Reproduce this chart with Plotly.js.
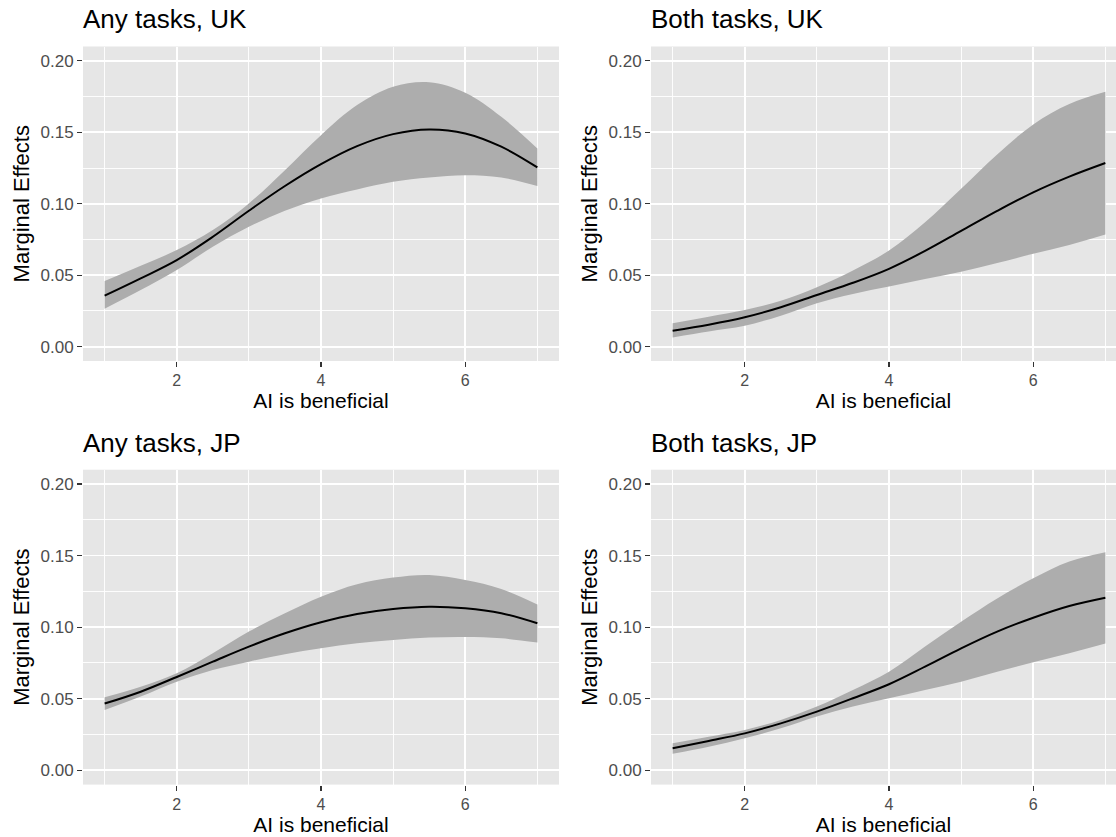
<!DOCTYPE html>
<html>
<head>
<meta charset="utf-8">
<script src="https://cdn.plot.ly/plotly-3.0.1.min.js"></script>
<style>html,body{margin:0;padding:0;background:#fff;}#chart{width:1116px;height:837px;}</style>
</head>
<body>
<div id="chart"></div>
<script>
// x values: "AI is beneficial"
const aiBeneficial = [1, 1.5, 2, 2.5, 3, 3.5, 4, 4.5, 5, 5.5, 6, 6.5, 7];

// Any tasks, UK
const anyUK_fit = [0.0357, 0.0478, 0.0606, 0.0769, 0.0951, 0.1124, 0.1277, 0.1403, 0.1487, 0.1520, 0.1492, 0.1399, 0.1254];
const anyUK_hi  = [0.0459, 0.0566, 0.0676, 0.0816, 0.1002, 0.1235, 0.1480, 0.1690, 0.1818, 0.1850, 0.1776, 0.1608, 0.1387];
const anyUK_lo  = [0.0266, 0.0396, 0.0536, 0.0699, 0.0839, 0.0951, 0.1037, 0.1100, 0.1154, 0.1184, 0.1200, 0.1184, 0.1124];

// Both tasks, UK
const bothUK_fit = [0.0112, 0.0154, 0.0206, 0.0276, 0.0362, 0.0447, 0.0545, 0.0670, 0.0810, 0.0950, 0.1080, 0.1190, 0.1285];
const bothUK_hi  = [0.0164, 0.0210, 0.0257, 0.0322, 0.0416, 0.0533, 0.0673, 0.0871, 0.1105, 0.1345, 0.1555, 0.1698, 0.1783];
const bothUK_lo  = [0.0065, 0.0107, 0.0147, 0.0217, 0.0304, 0.0369, 0.0421, 0.0473, 0.0525, 0.0585, 0.0650, 0.0712, 0.0785];

// Any tasks, JP
const anyJP_fit = [0.0466, 0.0549, 0.0652, 0.0759, 0.0864, 0.0957, 0.1034, 0.1092, 0.1127, 0.1143, 0.1132, 0.1097, 0.1027];
const anyJP_hi  = [0.0510, 0.0584, 0.0678, 0.0817, 0.0969, 0.1097, 0.1213, 0.1300, 0.1346, 0.1364, 0.1329, 0.1267, 0.1159];
const anyJP_lo  = [0.0421, 0.0515, 0.0619, 0.0701, 0.0759, 0.0810, 0.0852, 0.0887, 0.0910, 0.0927, 0.0931, 0.0922, 0.0892];

// Both tasks, JP
const bothJP_fit = [0.0154, 0.0205, 0.0258, 0.0328, 0.0410, 0.0503, 0.0601, 0.0724, 0.0852, 0.0969, 0.1066, 0.1148, 0.1206];
const bothJP_hi  = [0.0189, 0.0235, 0.0282, 0.0352, 0.0445, 0.0561, 0.0689, 0.0864, 0.1038, 0.1201, 0.1341, 0.1458, 0.1523];
const bothJP_lo  = [0.0116, 0.0165, 0.0224, 0.0293, 0.0375, 0.0445, 0.0503, 0.0561, 0.0619, 0.0689, 0.0754, 0.0817, 0.0885];

const panelTitles = ["Any tasks, UK", "Both tasks, UK", "Any tasks, JP", "Both tasks, JP"];
const xTitle = "AI is beneficial";
const yTitle = "Marginal Effects";
const xTickVals = [2, 4, 6];
const yTickVals = [0, 0.05, 0.10, 0.15, 0.20];

const panels = [
  {fit: anyUK_fit, lo: anyUK_lo, hi: anyUK_hi},
  {fit: bothUK_fit, lo: bothUK_lo, hi: bothUK_hi},
  {fit: anyJP_fit, lo: anyJP_lo, hi: anyJP_hi},
  {fit: bothJP_fit, lo: bothJP_lo, hi: bothJP_hi}
];

const W = 1116, H = 837;
const FONT = "Liberation Sans, Arial, Helvetica, sans-serif";
// pixel geometry of panels
const xDom = [[83 / W, 559 / W], [651 / W, 1]];
const yDom = [[1 - 361 / H, 1 - 46.5 / H], [1 - 784.6 / H, 1 - 469.7 / H]];
const xRanges = [[0.7, 7.3], [0.7, 0.7 + 465 / ((559 - 83) / 6.6)]];

const data = [];
const layout = {
  width: W, height: H,
  margin: {l: 0, r: 0, t: 0, b: 0},
  paper_bgcolor: "#ffffff",
  plot_bgcolor: "#E6E6E6",
  showlegend: false,
  font: {family: FONT, color: "#000"},
  annotations: []
};

panels.forEach((p, i) => {
  const col = i % 2, row = Math.floor(i / 2);
  const n = i + 1;
  const xa = n === 1 ? "x" : "x" + n;
  const ya = n === 1 ? "y" : "y" + n;
  const xk = n === 1 ? "xaxis" : "xaxis" + n;
  const yk = n === 1 ? "yaxis" : "yaxis" + n;

  data.push({x: aiBeneficial, y: p.lo, xaxis: xa, yaxis: ya, type: "scatter", mode: "lines",
    line: {width: 0, shape: "spline", color: "#ADADAD"}, hoverinfo: "skip"});
  data.push({x: aiBeneficial, y: p.hi, xaxis: xa, yaxis: ya, type: "scatter", mode: "lines",
    line: {width: 0, shape: "spline", color: "#ADADAD"}, fill: "tonexty", fillcolor: "#ADADAD", hoverinfo: "skip"});
  data.push({x: aiBeneficial, y: p.fit, xaxis: xa, yaxis: ya, type: "scatter", mode: "lines",
    line: {width: 2, shape: "spline", color: "#000000"}});

  layout[xk] = {
    domain: xDom[col], anchor: ya, range: xRanges[col],
    tickvals: xTickVals, ticktext: xTickVals.map(String),
    ticks: "outside", ticklen: 5, tickwidth: 1.2, tickcolor: "#333333",
    tickfont: {family: FONT, size: 16, color: "#4D4D4D"},
    showgrid: true, gridcolor: "#FFFFFF", gridwidth: 1.8,
    minor: {tickvals: [1, 3, 5, 7], showgrid: true, gridcolor: "#FFFFFF", gridwidth: 0.9, ticks: ""},
    zeroline: false, showline: false, fixedrange: true,
    title: {text: xTitle, font: {family: FONT, size: 21, color: "#000"}, standoff: 2}
  };
  layout[yk] = {
    domain: yDom[row], anchor: xa, range: [-0.01, 0.21],
    tickvals: yTickVals, ticktext: yTickVals.map(v => v.toFixed(2)),
    ticks: "outside", ticklen: 5, tickwidth: 1.2, tickcolor: "#333333",
    tickfont: {family: FONT, size: 17, color: "#4D4D4D"},
    showgrid: true, gridcolor: "#FFFFFF", gridwidth: 1.8,
    minor: {tickvals: [0.025, 0.075, 0.125, 0.175], showgrid: true, gridcolor: "#FFFFFF", gridwidth: 0.9, ticks: ""},
    zeroline: false, showline: false, fixedrange: true,
    title: {text: yTitle, font: {family: FONT, size: 22, color: "#000"}, standoff: 4}
  };

  layout.annotations.push({
    text: panelTitles[i], xref: "paper", yref: "paper",
    x: xDom[col][0], y: yDom[row][1] + 10 / H,
    xanchor: "left", yanchor: "bottom", showarrow: false, xshift: -2,
    font: {family: FONT, size: 26, color: "#000"}
  });
});

Plotly.newPlot("chart", data, layout, {staticPlot: true, displayModeBar: false});
</script>
</body>
</html>
